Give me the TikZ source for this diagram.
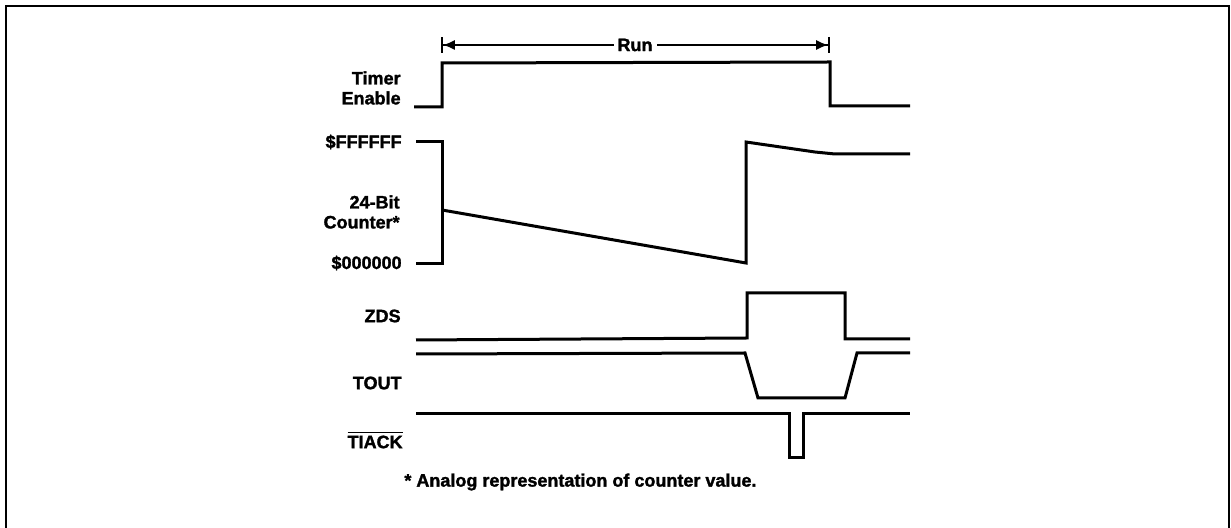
\documentclass[tikz,border=0pt]{standalone}
\usepackage{fontspec}
\setmainfont{Liberation Sans}[FakeBold=1.6]
\usetikzlibrary{arrows.meta,positioning}
\tikzset{
  wave/.style={line width=1.5pt,line join=miter,black},
  frm/.style={line width=1.2pt,black},
  lbl/.style={anchor=east,align=right,inner sep=0pt,font=\fontsize{9}{10}\selectfont\bfseries},
  runar/.style={line width=0.9pt,{Bar[width=8pt]Latex[length=6pt,width=5pt]}-{Latex[length=6pt,width=5pt]Bar[width=8pt]}}
}
\newcommand{\ovl}[1]{$\overline{\hbox{#1}}$}

\begin{document}
\begin{tikzpicture}[x=0.5pt,y=-0.5pt]
\useasboundingbox (0,0) rectangle (1231,528);
\draw[frm] (6,528) -- (6,6) -- (1229,6) -- (1229,528);
% run interval
\coordinate (runL) at (441,45);
\coordinate (runR) at (830,45);
\draw[runar] (runL) -- (runR);
\node[fill=white,inner xsep=2pt,inner ysep=1pt,font=\fontsize{9}{10}\selectfont\bfseries] (run) at (635,45) {Run};
% labels
\node[lbl] (te) at (401,88) {Timer\\Enable};
\node[lbl] (ffff) at (402,142) {\$FFFFFF};
\node[lbl] (cnt) at (400,212) {24-Bit\\Counter*};
\node[lbl] (zero) at (402,263) {\$000000};
\node[lbl] (zds) at (401,316) {ZDS};
\node[lbl] (tout) at (402,383) {TOUT};
\node[lbl] (tiack) at (403,440) {\ovl{TIACK}};
\node[anchor=west,inner sep=0pt,font=\fontsize{9}{10}\selectfont\bfseries] (note) at (404,482) {* Analog representation of counter value.};
% waveforms
\draw[wave] (414,107) -- (442,107) -- (442,63) -- (830,62) -- (830,106) -- (910,106);
\draw[wave] (416,142) -- (442,142) -- (442,264) -- (416,264);
\draw[wave] (442,210) -- (746,263) -- (746,142) -- (815,152) -- (835,154) -- (910,154);
\draw[wave] (416,340) -- (747,338) -- (747,293) -- (845,293) -- (845,339) -- (910,339);
\draw[wave] (416,354) -- (745,353) -- (758,398) -- (845,398) -- (857,353) -- (910,353);
\draw[wave] (416,414) -- (789,414) -- (789,458) -- (803,458) -- (803,414) -- (910,414);
\end{tikzpicture}
\end{document}
